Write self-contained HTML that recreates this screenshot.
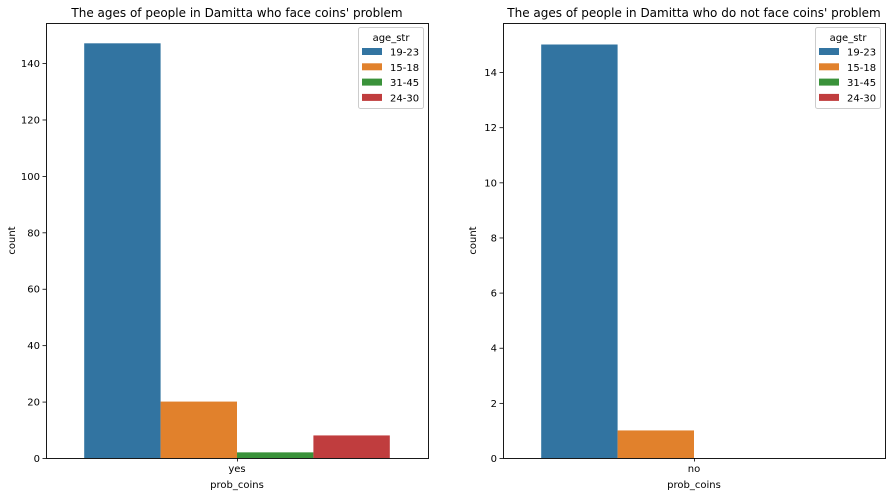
<!DOCTYPE html>
<html><head><meta charset="utf-8"><style>
body{margin:0;background:#fff;}
svg{display:block;font-family:"DejaVu Sans","Liberation Sans",sans-serif;}
</style></head><body>
<svg id="chart" width="891" height="497"></svg>
<script>
const ageGroups = ["19-23","15-18","31-45","24-30"];
const colors = ["#3274a1","#e1812c","#3a923a","#c03d3e"];
const leftCategory = ["yes"];
const leftValues = [147, 20, 2, 8];
const leftTicks = [0,20,40,60,80,100,120,140];
const rightCategory = ["no"];
const rightValues = [15, 1, 0, 0];
const rightTicks = [0,2,4,6,8,10,12,14];

const svg = document.getElementById('chart');
const NS = "http://www.w3.org/2000/svg";
function mk(tag, attrs, parent){
  const e = document.createElementNS(NS, tag);
  for (const k in attrs) e.setAttribute(k, attrs[k]);
  (parent||svg).appendChild(e);
  return e;
}
function panel(px, title, cat, vals, ticks, ymax, prefix, ylOff){
  const x0 = px, x1 = px + 382, y0 = 458, y1 = 23;
  const g = mk('g', {});
  
  
  const y = v => y0 - (v / ymax) * (y0 - y1);
  const bandW = (x1 - x0) * 0.8, bw = bandW / vals.length;
  const start = (x0 + x1) / 2 - bandW / 2;
  vals.forEach((v, i) => {
    const r = mk('rect', {x: start + i*bw, y: y(v), width: bw, height: y0 - y(v), fill: colors[i]}, g);
    
    
  });
  const fr = mk('rect', {x: x0+0.5, y: y1+0.5, width: x1-x0, height: y0-y1, fill: 'none', stroke: '#000', 'stroke-width': 0.9}, g);
  
  
  ticks.forEach(t => {
    const yy = y(t);
    mk('line', {x1: x0-3.5, x2: x0, y1: yy+0.5, y2: yy+0.5, stroke: '#000', 'stroke-width': 0.8}, g);
    const tx = mk('text', {x: x0-6, y: yy+4, 'text-anchor': 'end', 'font-size': 10}, g);
    tx.textContent = t;
    
    
  });
  const cx = (x0 + x1) / 2;
  mk('line', {x1: cx+0.5, x2: cx+0.5, y1: y0, y2: y0+3.5, stroke: '#000', 'stroke-width': 0.8}, g);
  const ct = mk('text', {x: cx, y: y0+14, 'text-anchor': 'middle', 'font-size': 10}, g);
  ct.textContent = cat[0];
  
  
  const xl = mk('text', {x: cx, y: y0+30, 'text-anchor': 'middle', 'font-size': 10}, g);
  xl.textContent = 'prob_coins';
  
  
  const yl = mk('text', {x: 0, y: 0, 'text-anchor': 'middle', 'font-size': 10, transform: `translate(${x0-ylOff},${(y0+y1)/2}) rotate(-90)`}, g);
  yl.textContent = 'count';
  
  
  const tt = mk('text', {x: cx, y: 17, 'text-anchor': 'middle', 'font-size': 12}, g);
  tt.textContent = title;
  
  
  const lx = x1 - 70, ly = 27;
  const lg = mk('g', {}, g);
  
  
  mk('rect', {x: lx+0.5, y: ly+0.5, width: 65, height: 81, rx: 2, fill: '#fff', 'fill-opacity': 0.8, stroke: '#ccc'}, lg);
  const lt = mk('text', {x: lx+33, y: ly+14, 'text-anchor': 'middle', 'font-size': 10}, lg);
  lt.textContent = 'age_str';
  ageGroups.forEach((a, i) => {
    const ry = ly + 21 + i*15.3;
    const e = mk('g', {}, lg);
    
    
    mk('rect', {x: lx+4, y: ry, width: 20, height: 7, fill: colors[i]}, e);
    const t = mk('text', {x: lx+32, y: ry+7.5, 'font-size': 10}, e);
    t.textContent = a;
  });
}
panel(46, "The ages of people in Damitta who face coins' problem", leftCategory, leftValues, leftTicks, 154.2, 'left', 31);
panel(503, "The ages of people in Damitta who do not face coins' problem", rightCategory, rightValues, rightTicks, 15.78, 'right', 27);
</script>
</body></html>
